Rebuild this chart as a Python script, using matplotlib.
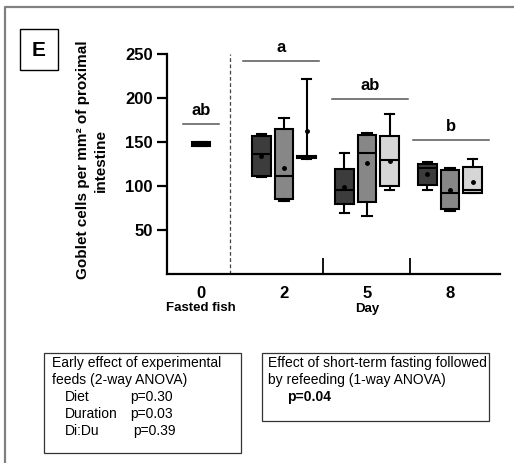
import matplotlib
matplotlib.use("Agg")
import matplotlib.pyplot as plt
from matplotlib.lines import Line2D
from matplotlib.patches import Rectangle

plt.rcParams['font.family'] = ['Liberation Sans', 'DejaVu Sans']

# ---- data -------------------------------------------------------------
group_labels = ["0", "2", "5", "8"]
group_pos = [0, 1, 2, 3]
diet_colors = ["#3c3c3c", "#878787", "#d6d6d6"]

# five-number summaries + mean: (whislo, q1, med, q3, whishi, mean)
fasted_stats = (146, 146, 148, 150, 150, 148)
day2_stats = [(110, 111.5, 136, 157, 159, 134),
              (83, 85, 111.5, 165, 177, 120),
              (131, 131.5, 133, 134, 222, 162.5)]
day5_stats = [(69, 79, 96, 119, 138, 99),
              (66, 81.5, 138, 158, 160, 126),
              (95, 100, 129.5, 157, 182, 128.5)]
day8_stats = [(96, 101, 120, 124.5, 127, 114),
              (72, 74, 92, 118, 121, 95.5),
              (92, 92.5, 96, 122, 131, 104.5)]

letters = ["ab", "a", "ab", "b"]
letter_y = [170.5, 242, 198.5, 152]

yticks = [50, 100, 150, 200, 250]

# ---- figure -----------------------------------------------------------
W, H = 514, 463
fig = plt.figure(figsize=(W / 100, H / 100), dpi=100)


def fx(px):
    return px / W


def fy(py):
    return 1 - py / H


ax = fig.add_axes([fx(166.7), fy(274), (500 - 166.7) / W, (274 - 54) / H])

for s in ("top", "right"):
    ax.spines[s].set_visible(False)
for s in ("left", "bottom"):
    ax.spines[s].set_linewidth(1.6)


def make_stats(t):
    lo, q1, med, q3, hi, mean = t
    return dict(whislo=lo, q1=q1, med=med, q3=q3, whishi=hi, mean=mean, fliers=[])


box_w = 0.222
offset = 0.272
lw = 1.5


def draw(stats_list, positions, colors, showmeans=True):
    bp = ax.bxp([make_stats(s) for s in stats_list], positions=positions,
                widths=box_w, patch_artist=True, showmeans=showmeans,
                showfliers=False, capwidths=0.11,
                boxprops=dict(edgecolor="black", linewidth=lw),
                medianprops=dict(color="black", linewidth=lw),
                whiskerprops=dict(color="black", linewidth=lw),
                capprops=dict(color="black", linewidth=lw),
                meanprops=dict(marker="o", markerfacecolor="black",
                               markeredgecolor="black", markersize=2.5))
    for patch, c in zip(bp["boxes"], colors):
        patch.set_facecolor(c)
    return bp


draw([fasted_stats], [group_pos[0]], ["black"], showmeans=False)
for gi, stats in zip(group_pos[1:], [day2_stats, day5_stats, day8_stats]):
    draw(stats, [gi - offset, gi, gi + offset], diet_colors)

ax.set_xlim(-0.4133, 3.6024)
ax.set_ylim(0, 250)

ax.set_yticks(yticks)
ax.set_yticklabels([str(v) for v in yticks], fontsize=12, fontweight="bold")
ax.tick_params(axis="y", length=7, width=1.6, pad=3)

ax.set_xticks(group_pos)
ax.set_xticklabels(group_labels, fontsize=12, fontweight="bold")
ax.tick_params(axis="x", which="major", length=0, pad=9)
ax.set_xticks([1.47, 2.52], minor=True)
ax.tick_params(axis="x", which="minor", direction="in", length=11.5, width=1.3)

# separator between fasted fish and refed days
ax.axvline(0.349, ymin=0, ymax=1, color="#444444", lw=0.9, ls=(0, (3, 2)))

# significance letters with bars
half = [0.22, 0.46, 0.46, 0.46]
shift = [0.0, -0.04, 0.036, 0.012]
for g, lab, yv, hw, sh in zip(group_pos, letters, letter_y, half, shift):
    c = g + sh
    ax.plot([c - hw, c + hw], [yv, yv], color="#555555", lw=1.1, clip_on=False)
    ax.text(c, yv + 7, lab, ha="center", va="bottom", fontsize=12,
            fontweight="bold", clip_on=False)

# axis titles
fig.text(fx(201), fy(308), "Fasted fish", ha="center", va="center",
         fontsize=9.5, fontweight="bold")
fig.text(fx(367), fy(309), "Day", ha="center", va="center",
         fontsize=9.5, fontweight="bold")
fig.text(fx(92), fy(160), "Goblet cells per mm\u00b2 of proximal\nintestine",
         rotation=90, ha="center", va="center", multialignment="center",
         fontsize=11, fontweight="bold", linespacing=1.3)

# panel letter
fig.add_artist(Rectangle((fx(20), fy(70)), (58 - 20) / W, (70 - 29) / H,
                         transform=fig.transFigure, fill=False,
                         edgecolor="black", lw=1.0))
fig.text(fx(39), fy(50), "E", ha="center", va="center", fontsize=15,
         fontweight="bold")

# outer panel frame
fig.add_artist(Line2D([fx(5), fx(5), fx(520)], [fy(470), fy(7), fy(7)],
                      transform=fig.transFigure, color="#808080", lw=1.6))

# statistics boxes
fig.add_artist(Rectangle((fx(44.3), fy(452.7)), (240.7 - 44.3) / W,
                         (452.7 - 352.7) / H, transform=fig.transFigure,
                         fill=False, edgecolor="#333333", lw=0.9))
fig.add_artist(Rectangle((fx(261.7), fy(420.5)), (489 - 261.7) / W,
                         (420.5 - 352.7) / H, transform=fig.transFigure,
                         fill=False, edgecolor="#333333", lw=0.9))

tfs = 10
fig.text(fx(51.7), fy(363), "Early effect of experimental", fontsize=tfs, va="center")
fig.text(fx(51.7), fy(380), "feeds (2-way ANOVA)", fontsize=tfs, va="center")
rows = [("Diet", "p=0.30", 130), ("Duration", "p=0.03", 130), ("Di:Du", "p=0.39", 132.7)]
for i, (name, pv, px) in enumerate(rows):
    yy = 397 + 17 * i
    fig.text(fx(65), fy(yy), name, fontsize=tfs, va="center")
    fig.text(fx(px), fy(yy), pv, fontsize=tfs, va="center")

fig.text(fx(268.3), fy(363), "Effect of short-term fasting followed", fontsize=tfs, va="center")
fig.text(fx(268.3), fy(380), "by refeeding (1-way ANOVA)", fontsize=tfs, va="center")
fig.text(fx(286.7), fy(397), "p=0.04", fontsize=tfs, va="center", fontweight="bold")

fig.savefig("out.png", dpi=100)
